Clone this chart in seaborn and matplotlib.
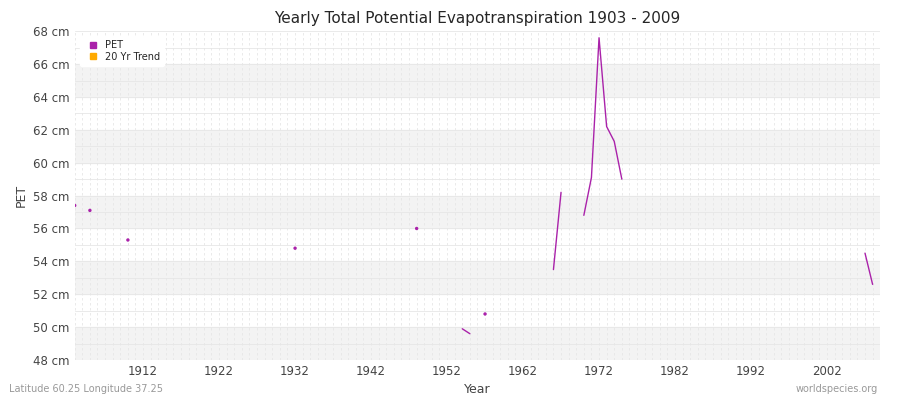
import numpy as np
import pandas as pd
import seaborn as sns
import matplotlib.pyplot as plt

sns.set_style('white')
plt.rcParams['font.family'] = ['DejaVu Sans']

nan = np.nan
years = [1903, 1905, 1910, 1932, 1948, 1954, 1955, 1957, 1966, 1967,
         1970, 1971, 1972, 1973, 1974, 1975, 2007, 2008]
pet = [57.4, 57.1, 55.3, 54.8, 56.0, 49.9, 49.6, 50.8, 53.5, 58.2,
       56.8, 59.1, 67.6, 62.2, 61.3, 59.0, 54.5, 52.6]

all_years = np.arange(1903, 2010)
series = pd.Series(pet, index=years).reindex(all_years)
df = pd.DataFrame({'year': all_years, 'pet': series.values})

# isolated points (no neighbour on either side)
isolated = df[df.pet.notna() & df.pet.shift(1).isna() & df.pet.shift(-1).isna()]

fig, ax = plt.subplots(figsize=(9, 4), dpi=100)
for lo in range(48, 68, 4):
    ax.axhspan(lo, lo + 2, color='#f3f3f3', zorder=0)
for y in np.arange(48, 68.5, 1):
    ax.axhline(y, color='#e6e6e6', lw=0.6, zorder=0)
for x in all_years:
    ax.axvline(x, color='#e6e6e6', lw=0.6, ls=(0, (3, 3)), zorder=0)

ax.plot(df.year, df.pet, color='#aa22aa', lw=1, label='PET')
sns.scatterplot(data=isolated, x='year', y='pet', color='#aa22aa', s=6,
                edgecolor='none', ax=ax, legend=False)
ax.plot([], [], color='#ffaa00', lw=0, marker='s', ms=4, label='20 Yr Trend')
ax.lines[-2].set_label('PET')

handles = [plt.Line2D([], [], color='#aa22aa', marker='s', lw=0, ms=4),
           plt.Line2D([], [], color='#ffaa00', marker='s', lw=0, ms=4)]
ax.legend(handles, ['PET', '20 Yr Trend'], loc='upper left', fontsize=7,
          frameon=True, framealpha=1, edgecolor='white', handletextpad=0.2,
          borderpad=0.4, labelspacing=0.2)

ax.set_xlim(1903, 2009)
ax.set_ylim(48, 68)
ax.set_xticks(np.arange(1912, 2009, 10))
ax.set_yticks(np.arange(48, 69, 2))
ax.set_yticklabels([f'{v} cm' for v in range(48, 69, 2)])
ax.tick_params(labelsize=8.5, colors='#444444', length=0)
for s in ax.spines.values():
    s.set_visible(False)
ax.set_xlabel('Year', fontsize=9, color='#444444')
ax.set_ylabel('PET', fontsize=9, color='#444444')
ax.set_title('Yearly Total Potential Evapotranspiration 1903 - 2009', fontsize=11)

fig.text(0.01, 0.02, 'Latitude 60.25 Longitude 37.25', fontsize=7, color='#999999')
fig.text(0.975, 0.02, 'worldspecies.org', fontsize=7, color='#999999', ha='right')
fig.subplots_adjust(left=0.083, right=0.978, top=0.922, bottom=0.1)
fig.savefig('out.png')
